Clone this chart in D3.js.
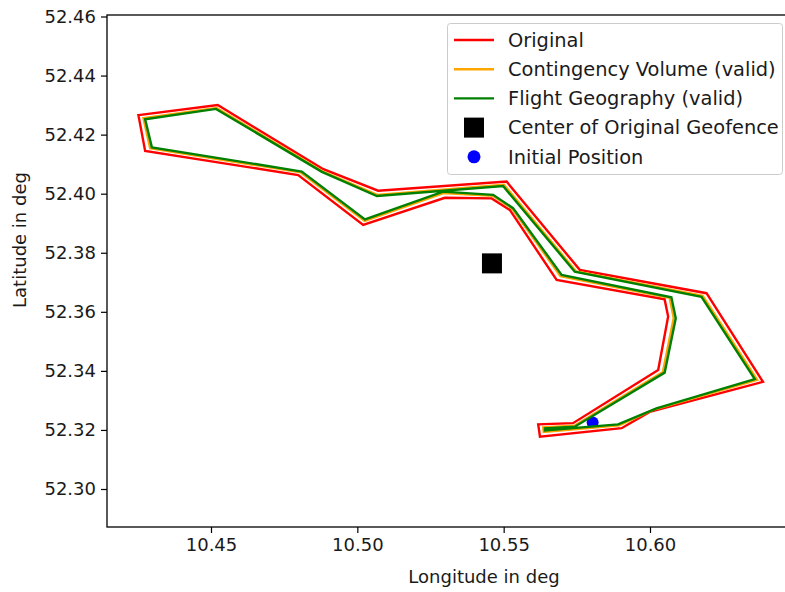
<!DOCTYPE html>
<html>
<head>
<meta charset="utf-8">
<script src="https://cdn.jsdelivr.net/npm/d3@7"></script>
<style>
  body { margin: 0; background: #fff; }
  svg text { font-family: "DejaVu Sans", sans-serif; fill: #1a1a1a; }
</style>
</head>
<body>
<svg id="graph"></svg>
<script>
// Geofence polygons (lon / lat in deg)
var originalLon = [10.4252, 10.4523, 10.4884, 10.5071, 10.5510, 10.5760, 10.6193, 10.6386, 10.5999, 10.5903, 10.5624, 10.5618,
                   10.5737, 10.6028, 10.6062, 10.6050, 10.5681, 10.5521, 10.5459, 10.5299, 10.5020, 10.4798, 10.4275];
var originalLat = [52.4266, 52.4300, 52.4083, 52.4010, 52.4041, 52.3742, 52.3663, 52.3363, 52.3261, 52.3206, 52.3177, 52.3219,
                   52.3223, 52.3403, 52.3584, 52.3642, 52.3708, 52.3945, 52.3984, 52.3986, 52.3894, 52.4063, 52.4145];

var contingencyLon = [10.4269, 10.4519, 10.4880, 10.5068, 10.5501, 10.5747, 10.6180, 10.6366, 10.6016, 10.5894, 10.5637, 10.5635,
                      10.5742, 10.6044, 10.6081, 10.6067, 10.5694, 10.5529, 10.5463, 10.5294, 10.5025, 10.4807, 10.4292];
var contingencyLat = [52.4256, 52.4290, 52.4076, 52.3996, 52.4030, 52.3737, 52.3654, 52.3370, 52.3270, 52.3216, 52.3193, 52.3209,
                      52.3214, 52.3396, 52.3579, 52.3647, 52.3721, 52.3950, 52.3993, 52.4002, 52.3908, 52.4072, 52.4154];

var flightLon = [10.4275, 10.4517, 10.4879, 10.5067, 10.5498, 10.5743, 10.6176, 10.6358, 10.6022, 10.5891, 10.5641, 10.5641,
                 10.5743, 10.6050, 10.6088, 10.6073, 10.5698, 10.5532, 10.5464, 10.5293, 10.5026, 10.4810, 10.4298];
var flightLat = [52.4252, 52.4287, 52.4074, 52.3992, 52.4026, 52.3736, 52.3651, 52.3372, 52.3273, 52.3219, 52.3198, 52.3205,
                 52.3211, 52.3394, 52.3578, 52.3649, 52.3725, 52.3951, 52.3996, 52.4007, 52.3913, 52.4075, 52.4157];

var centerPoint = [10.5460, 52.3764];
var initialPoint = [10.5804, 52.3225];

var xTicks = [10.45, 10.50, 10.55, 10.60];
var yTicks = [52.30, 52.32, 52.34, 52.36, 52.38, 52.40, 52.42, 52.44, 52.46];

var legendLabels = ["Original", "Contingency Volume (valid)", "Flight Geography (valid)",
                    "Center of Original Geofence", "Initial Position"];

var svg = d3.select("#graph")
    .attr("width", 785)
    .attr("height", 592);

// plot box (the right side runs past the picture)
var box = {left: 107, top: 15, right: 861, bottom: 527};

var x = d3.scaleLinear().domain([10.45, 10.60]).range([211, 650]);
var y = d3.scaleLinear().domain([52.30, 52.46]).range([489, 16.5]);

svg.append("clipPath").attr("id", "clip")
  .append("rect")
    .attr("x", box.left).attr("y", box.top)
    .attr("width", box.right - box.left).attr("height", box.bottom - box.top);

var plot = svg.append("g").attr("clip-path", "url(#clip)");

// scatter markers sit under the lines, as in the original
plot.append("rect")
    .attr("x", x(centerPoint[0]) - 10)
    .attr("y", y(centerPoint[1]) - 10)
    .attr("width", 20).attr("height", 20)
    .attr("fill", "#000");

plot.append("circle")
    .attr("cx", x(initialPoint[0]))
    .attr("cy", y(initialPoint[1]))
    .attr("r", 6)
    .attr("fill", "#0000ff");

var line = d3.line()
    .x(function(d) { return x(d[0]); })
    .y(function(d) { return y(d[1]); })
    .curve(d3.curveLinearClosed);

function pairs(lon, lat) { return lon.map(function(v, i) { return [v, lat[i]]; }); }

var polys = [
  {pts: pairs(originalLon, originalLat), color: "#ff0000"},
  {pts: pairs(contingencyLon, contingencyLat), color: "#ffa500"},
  {pts: pairs(flightLon, flightLat), color: "#008000"}
];

plot.selectAll(".poly")
  .data(polys)
  .enter().append("path")
    .attr("class", "poly")
    .attr("d", function(d) { return line(d.pts); })
    .attr("fill", "none")
    .attr("stroke", function(d) { return d.color; })
    .attr("stroke-width", 2.4)
    .attr("stroke-linejoin", "miter");

// frame
svg.append("rect")
    .attr("x", box.left).attr("y", box.top)
    .attr("width", box.right - box.left).attr("height", box.bottom - box.top)
    .attr("fill", "none").attr("stroke", "#000").attr("stroke-width", 1.3);

// axes
var xAxis = svg.append("g")
    .attr("transform", "translate(0," + box.bottom + ")")
    .call(d3.axisBottom(x).tickValues(xTicks).tickFormat(d3.format(".2f")).tickSize(6).tickSizeOuter(0).tickPadding(5));

var yAxis = svg.append("g")
    .attr("transform", "translate(" + box.left + ",0)")
    .call(d3.axisLeft(y).tickValues(yTicks).tickFormat(d3.format(".2f")).tickSize(6).tickSizeOuter(0).tickPadding(5));

[xAxis, yAxis].forEach(function(a) {
  a.select(".domain").remove();
  a.selectAll(".tick line").attr("stroke", "#000").attr("stroke-width", 1.2);
  a.selectAll(".tick text").attr("font-size", 18).style("fill", "#1a1a1a");
});

svg.append("text")
    .attr("x", 484).attr("y", 583)
    .attr("text-anchor", "middle")
    .attr("font-size", 18)
    .text("Longitude  in deg");

svg.append("text")
    .attr("transform", "translate(26,240) rotate(-90)")
    .attr("text-anchor", "middle")
    .attr("font-size", 18)
    .text("Latitude  in deg");

// legend
var leg = svg.append("g");
leg.append("rect")
    .attr("x", 447.5).attr("y", 23.5)
    .attr("width", 335).attr("height", 151)
    .attr("rx", 3)
    .attr("fill", "#fff").attr("fill-opacity", 0.8)
    .attr("stroke", "#cccccc");

var rows = leg.selectAll(".row")
  .data(legendLabels)
  .enter().append("g")
    .attr("class", "row")
    .attr("transform", function(d, i) { return "translate(0," + (40 + i * 29.2) + ")"; });

rows.filter(function(d, i) { return i < 3; })
  .append("line")
    .attr("x1", 454).attr("x2", 494)
    .attr("stroke", function(d, i) { return polys[i].color; })
    .attr("stroke-width", 2.4);

rows.filter(function(d, i) { return i === 3; })
  .append("rect")
    .attr("x", 464).attr("y", -10).attr("width", 20).attr("height", 20)
    .attr("fill", "#000");

rows.filter(function(d, i) { return i === 4; })
  .append("circle")
    .attr("cx", 474).attr("r", 6.5)
    .attr("fill", "#0000ff");

rows.append("text")
    .attr("x", 508)
    .attr("dy", "0.35em")
    .attr("font-size", 19.4)
    .text(function(d) { return d; });
</script>
</body>
</html>
